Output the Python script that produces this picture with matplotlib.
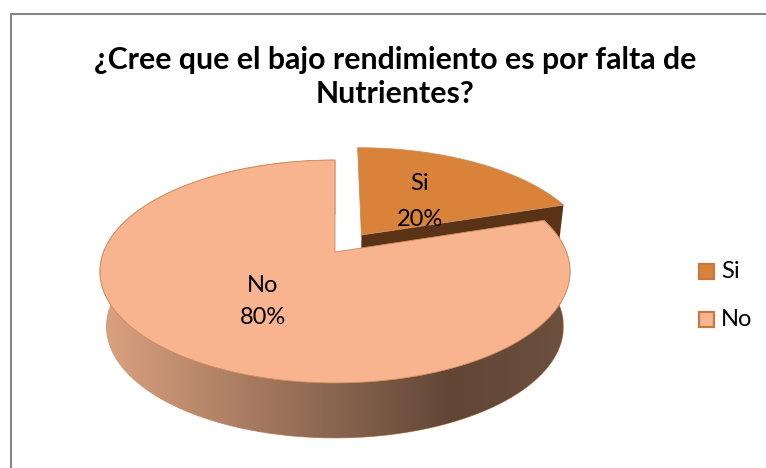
import numpy as np
import matplotlib.pyplot as plt
from matplotlib.colors import LinearSegmentedColormap
from matplotlib.patches import Polygon, Rectangle

# Data
categories = ['Si', 'No']
values = [20, 80]
title_lines = ['¿Cree que el bajo rendimiento es por falta de', 'Nutrientes?']

# Colours
top_colors = ['#d98239', '#f7b48e']
edge_color = '#cf8a58'
legend_edge = '#c4793f'
cut_color = '#5a3317'

# Pie geometry in pixels
cx, cy = 335, 252
rx, ry = 231.4, 108
persp = 0.175
depth = 55
depth_scale = 0.972
explode = 0.2

plt.rcParams['font.family'] = ['Lato', 'DejaVu Sans']

fig = plt.figure(figsize=(7.66, 4.68), dpi=100)
ax = fig.add_axes([0, 0, 1, 1])


def project(u, v):
    # circle coordinates to screen, far side squeezed a little
    w = 1 + persp * v
    return cx + rx * u / w, cy - ry * v / w


def rim(start, end, off_u=0, off_v=0):
    t = np.radians(np.linspace(start, end, 200))
    x, y = project(np.sin(t) + off_u, np.cos(t) + off_v)
    return np.column_stack([x, y])


def drop(pts):
    # same outline on the underside of the disc
    out = pts.copy()
    out[:, 0] = cx + (pts[:, 0] - cx) * depth_scale
    out[:, 1] = pts[:, 1] + depth
    return out


total = sum(values)
angles = np.cumsum([0] + values) / total * 360

# First slice is pulled out along its middle angle
mid = np.radians((angles[0] + angles[1]) / 2)
off_u, off_v = explode * np.sin(mid), explode * np.cos(mid)
si_rim = rim(angles[0], angles[1], off_u, off_v)
si_apex = np.array([project(off_u, off_v)])
cut = np.vstack([si_apex, si_rim[-1:], drop(si_rim[-1:]), drop(si_apex)])
ax.add_patch(Polygon(cut, fc=cut_color, ec='none'))
ax.add_patch(Polygon(np.vstack([si_apex, si_rim]), fc=top_colors[0], ec=edge_color, lw=0.6))

# Second slice: shaded wall first, flat top over it
no_rim = rim(angles[1], angles[2])
no_apex = np.array([project(0, 0)])
wall = Polygon(np.vstack([no_rim, drop(no_rim)[::-1]]), fc='none', ec=edge_color, lw=0.6)
ax.add_patch(wall)
wall_cmap = LinearSegmentedColormap.from_list('wall', [
    (0.0, '#d9a07f'), (0.64, '#735441'), (0.76, '#614636'), (1.0, '#6c503e')])
shade = ax.imshow(np.linspace(0, 1, 256).reshape(1, -1), cmap=wall_cmap,
                  extent=[107, 563, 440, 200], aspect='auto', zorder=1)
shade.set_clip_path(wall)
ax.add_patch(Polygon(np.vstack([no_apex, no_rim]), fc=top_colors[1], ec=edge_color, lw=0.6, zorder=2))

# Labels on the slices
label_pos = [(420, 184, 219), (263, 286, 318)]
for name, val, (lx, ly1, ly2) in zip(categories, values, label_pos):
    ax.text(lx, ly1, name, fontsize=17, ha='center', va='center', zorder=3)
    ax.text(lx, ly2, f'{val}%', fontsize=17, ha='center', va='center', zorder=3)

# Title
for line, ty in zip(title_lines, [60, 94]):
    ax.text(395, ty, line, fontsize=21.8, fontweight='bold', ha='center', va='center')

# Legend
for name, color, ly in zip(categories, top_colors, [271, 319]):
    ax.add_patch(Rectangle((699, ly - 7.5), 15, 15, fc=color, ec=legend_edge, lw=1.6))
    ax.text(721, ly + 1, name, fontsize=17, ha='left', va='center')

# Chart border
ax.plot([10.5, 10.5, 766], [468, 14, 14], color='#868686', lw=1.5)

ax.set_xlim(0, 766)
ax.set_ylim(468, 0)
ax.axis('off')

fig.savefig('out.png', dpi=100)
